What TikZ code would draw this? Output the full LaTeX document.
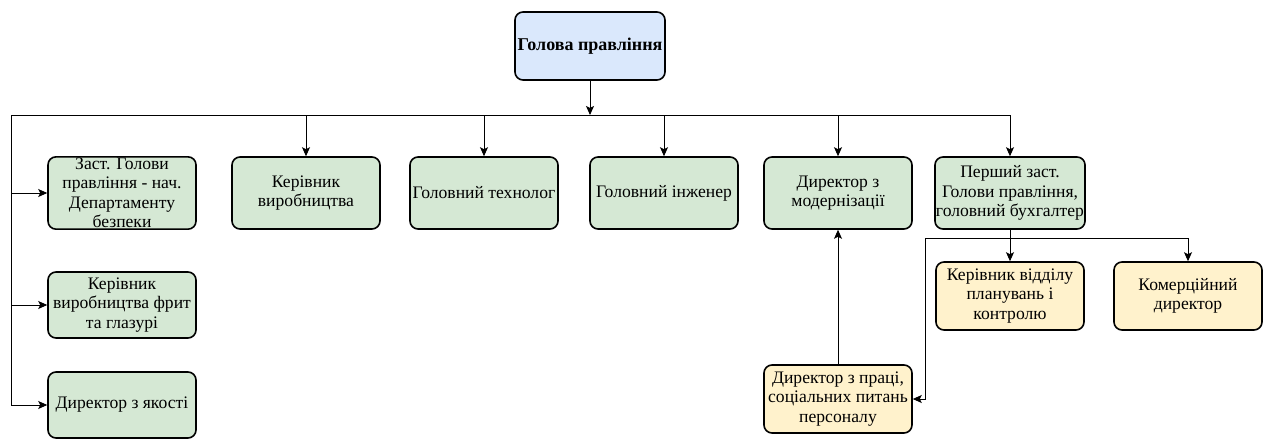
\documentclass[tikz,border=0pt]{standalone}
\usepackage{fontspec}
\setmainfont{Liberation Serif}
\usepackage{tikz}
\usetikzlibrary{positioning}
\usetikzlibrary{arrows.meta,calc}
\definecolor{headblue}{HTML}{DAE8FC}
\definecolor{unitgreen}{HTML}{D5E8D4}
\definecolor{unityellow}{HTML}{FFF2CC}
\tikzstyle{unit}=[rectangle,rounded corners=8pt,draw=black,line width=1.6pt,align=center,inner sep=1pt,minimum width=148pt,font=\fontsize{17.6}{19.5}\selectfont]
\tikzstyle{edge} = [draw,line width=0.9pt,-{Stealth[length=9pt,width=8pt,inset=2pt]}]
\tikzstyle{undirectededge} = [draw,line width=0.9pt]

\begin{document}
\begin{tikzpicture}[x=1pt,y=-1pt]
  \useasboundingbox (0,0) rectangle (1269,439);

  \node[unit,fill=headblue,minimum height=68pt,minimum width=150pt,font=\bfseries\fontsize{18}{20}\selectfont] (head) at (590,46) {Голова правління};

  % first row
  \foreach \x/\name/\label in {122/A1/{Заст. Голови\\правління - нач.\\Департаменту\\безпеки}, 306/A2/{Керівник\\виробництва}, 484/A3/{Головний технолог}, 664/A4/{Головний інженер}, 838/A5/{Директор з\\модернізації}, 1010/A6/{Перший заст.\\Голови правління,\\головний бухгалтер}}
          \node[unit,fill=unitgreen,minimum height=72pt] (\name) at (\x,193) {\label};

  % left column
  \foreach \y/\name/\label in {305/B1/{Керівник\\виробництва фрит\\та глазурі}, 405/B2/{Директор з якості}}
          \node[unit,fill=unitgreen,minimum height=66pt] (\name) at (122,\y) {\label};

  % under the first deputy
  \foreach \x/\y/\name/\label in {1010/296/C1/{Керівник відділу\\планувань і\\контролю}, 1188/296/C2/{Комерційний\\директор}, 838/399/C3/{Директор з праці,\\соціальних питань\\персоналу}}
          \node[unit,fill=unityellow,minimum height=68pt] (\name) at (\x,\y) {\label};

  \coordinate (bus) at (head |- 0,115);
  \coordinate (busL) at (11,115);
  \coordinate (bus2) at (1010,238);
  \coordinate (bus2L) at (925,238);

  \path[edge] (head) -- (bus);
  \path[undirectededge] (busL) -- (bus -| A6) (busL) -- (busL |- B2);

  \foreach \dest in {A2, A3, A4, A5, A6}
         \path[edge] (bus -| \dest) -- (\dest);
  \foreach \dest in {A1, B1, B2}
         \path[edge] (busL |- \dest) -- (\dest);

  \path[edge] (A6) -- (C1);
  \path[undirectededge] (bus2L) -- (bus2 -| C2);
  \path[edge] (bus2 -| C2) -- (C2);
  \path[edge] (bus2L) |- (C3);
  \path[edge] (C3) -- (A5);

\end{tikzpicture}
\end{document}
